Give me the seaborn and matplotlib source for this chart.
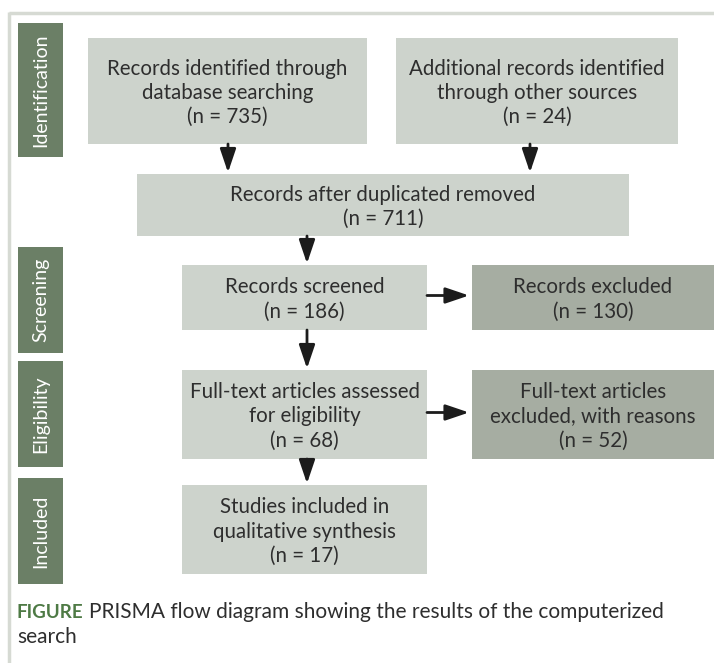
import matplotlib.pyplot as plt
import seaborn as sns
from matplotlib.patches import Rectangle

# -------------------------------
# Flow diagram content
# -------------------------------
stages = ["Identification", "Screening", "Eligibility", "Included"]
box_labels = [
    "Records identified through\ndatabase searching",
    "Additional records identified\nthrough other sources",
    "Records after duplicated removed",
    "Records screened",
    "Records excluded",
    "Full-text articles assessed\nfor eligibility",
    "Full-text articles\nexcluded, with reasons",
    "Studies included in\nqualitative synthesis",
]
box_counts = [735, 24, 711, 186, 130, 68, 52, 17]
excluded = [False, False, False, False, True, False, True, False]
links = [(0, 2), (1, 2), (2, 3), (3, 4), (3, 5), (5, 6), (5, 7)]
caption_tag = "FIGURE"
caption_lines = ["PRISMA flow diagram showing the results of the computerized", "search"]

# -------------------------------
# Layout (pixels, y down)
# -------------------------------
W, H = 714, 663
box_pos = [(88, 367, 38, 144), (396, 678, 38, 144), (137, 629, 174, 236),
           (182, 427, 265, 330), (472, 714, 265, 330), (182, 427, 370, 459),
           (472, 714, 370, 459), (182, 427, 485, 574)]
stage_pos = [(23, 157), (247, 353), (361, 467), (478, 584)]
vert_x = {(0, 2): 228, (1, 2): 530, (2, 3): 307, (3, 5): 307, (5, 7): 307}

light = "#cdd3cc"
dark = "#a6ada2"
green = "#6b7f66"
ink = "#2e2e2e"
font = "Lato"

sns.set_theme(style="white")
plt.rcParams["font.family"] = [font, "DejaVu Sans"]

fig = plt.figure(figsize=(W / 100, H / 100), dpi=100)
ax = fig.add_axes([0, 0, 1, 1])
ax.set_xlim(0, W)
ax.set_ylim(H, 0)
ax.axis("off")

# frame lines
ax.plot([9, W], [12.5, 12.5], color="#d6dad3", lw=2.5, solid_capstyle="butt")
ax.plot([9, 9], [11.5, H], color="#d6dad3", lw=2.5, solid_capstyle="butt")

# stage tabs
for name, (y0, y1) in zip(stages, stage_pos):
    ax.add_patch(Rectangle((18, y0), 45, y1 - y0, color=green, lw=0))
    ax.text(41, (y0 + y1) / 2, name, rotation=90, ha="center", va="center",
            color="white", fontsize=14)

# boxes
for lab, n, ex, (x0, x1, y0, y1) in zip(box_labels, box_counts, excluded, box_pos):
    ax.add_patch(Rectangle((x0, y0), x1 - x0, y1 - y0, color=dark if ex else light, lw=0))
    ax.text((x0 + x1) / 2, (y0 + y1) / 2 + 2, f"{lab}\n(n = {n})", ha="center", va="center",
            color=ink, fontsize=14.8, linespacing=1.26)

# arrows
for a, b in links:
    ax0, ax1, ay0, ay1 = box_pos[a]
    bx0, bx1, by0, by1 = box_pos[b]
    if (a, b) in vert_x:
        x = vert_x[(a, b)]
        start, end = (x, ay1), (x, by0 - 1.5)
    else:
        y = (ay0 + ay1) / 2 - 2
        start, end = (ax1, y), (bx0 - 3, y)
    ax.annotate("", xy=end, xytext=start,
                arrowprops=dict(arrowstyle="-|>,head_length=0.65,head_width=0.22",
                                color="#1c1c1c", lw=2,
                                mutation_scale=22, shrinkA=0, shrinkB=0))

# caption
tag = ax.text(17, 612, caption_tag, ha="left", va="center", color="#4e7a45",
              fontsize=13.5, fontweight="bold")
fig.canvas.draw()
bb = tag.get_window_extent()
x_after = ax.transData.inverted().transform((bb.x1, bb.y0))[0]
ax.text(x_after + 5, 612, caption_lines[0], ha="left", va="center", color=ink, fontsize=15)
ax.text(17, 637, caption_lines[1], ha="left", va="center", color=ink, fontsize=15)

fig.savefig("out.png", dpi=100)
